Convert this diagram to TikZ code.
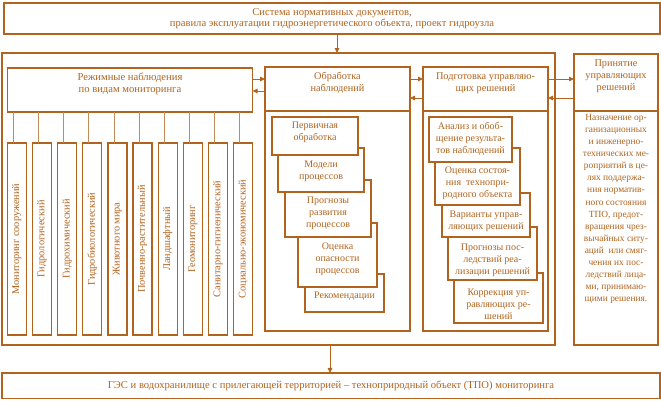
\documentclass[tikz,border=0pt]{standalone}
\usepackage{fontspec}
\setmainfont{Liberation Serif}
\usetikzlibrary{arrows.meta,calc}
\definecolor{br}{RGB}{178,100,30}
\begin{document}
\begin{tikzpicture}[x=1pt,y=-1pt,
  box/.style={draw=br, line width=1.4pt, fill=white, inner sep=0pt, outer sep=0pt, text=br,
    font=\fontsize{10.6}{11.7}\selectfont, align=center},
  cb/.style={line width=1.2pt},
  thk/.style={line width=1.9pt},
  lbl/.style={text=br, font=\fontsize{10}{12}\selectfont, align=center, inner sep=0pt},
  big/.style={font=\fontsize{10.6}{12}\selectfont},
  hdr/.style={font=\fontsize{10.3}{12}\selectfont},
  sml/.style={font=\fontsize{9.4}{12.1}\selectfont},
  vl/.style={draw=br!75, line width=0.8pt},
  arr/.style={draw=br, line width=1pt, -{Triangle[length=5pt,width=4.5pt]}},
  ]
\useasboundingbox (0,0) rectangle (661,400);

% top and main
\node[box, minimum width=656pt, minimum height=31pt] (norm) at (332,18.5)
  {Система нормативных документов,\\правила эксплуатации гидроэнергетического объекта, проект гидроузла};
\node[box, minimum width=553pt, minimum height=292pt] (main) at (278.5,199) {};

% regime observations
\node[box, thk, minimum width=245pt, minimum height=43.4pt,
  label={[lbl,big,yshift=6pt]center:{Режимные наблюдения\\по видам мониторинга}}] (reg) at (130,90) {};

% monitoring kinds
\foreach \i/\t in {0/Мониторинг сооружений,1/Гидрологический,2/Гидрохимический,3/Гидробиологический,
  4/Животного мира,5/Почвенно-растительный,6/Ландшафтный,7/Геомониторинг,
  8/Санитарно-гигиенический,9/Социально-экономический}{
  \node[box, cb, minimum width=19pt, minimum height=192pt,
    label={[lbl,hdr,rotate=90]center:{\t}}] (m\i) at ({16.8+25.15*\i},239) {};
  \draw[vl] ([xshift=-3.5pt]m\i.north) -- ([xshift=-3.5pt]m\i.north |- reg.south);
}

% processing
\node[box, minimum width=145pt, minimum height=44pt,
  label={[lbl,hdr,yshift=6pt]center:{Обработка\\наблюдений}}] (obrh) at (337.5,89) {};
\node[box, minimum width=145pt, minimum height=220pt, anchor=north] (obrb) at (obrh.south) {};

% preparation
\node[box, minimum width=125pt, minimum height=44pt,
  label={[lbl,hdr,yshift=6pt]center:{Подготовка управляю-\\щих решений}}] (podh) at (485.5,89) {};
\node[box, minimum width=125pt, minimum height=220pt, anchor=north] (podb) at (podh.south) {};

% decision making
\node[box, minimum width=84pt, minimum height=57pt,
  label={[lbl,hdr,yshift=6pt]center:{Принятие\\управляющих\\решений}}] (prh) at (616,82.5) {};
\node[box, minimum width=84pt, minimum height=234pt, anchor=north,
  label={[lbl,sml,anchor=north,yshift=-3pt]north:{Назначение ор-\\ганизационных\\и инженерно-\\технических ме-\\роприятий в це-\\лях поддержа-\\ния норматив-\\ного состояния\\ТПО, предот-\\вращения чрез-\\вычайных ситу-\\аций~ или смяг-\\чения их пос-\\ледствий лица-\\ми, принимаю-\\щими решения.}}] (prb) at (prh.south) {};

% bottom
\node[box, minimum width=658pt, minimum height=25.5pt] (bot) at (331,385.7)
  {ГЭС и водохранилище с прилегающей территорией – техноприродный объект (ТПО) мониторинга};

% cascade in processing
\node[box, cb, minimum width=79pt, minimum height=38pt,
  label={[lbl,yshift=-3pt]center:{Рекомендации}}] (p5) at (344.5,293) {};
\node[box, cb, minimum width=79pt, minimum height=64pt,
  label={[lbl,yshift=-4pt]center:{Оценка\\опасности\\процессов}}] (p4) at (337.5,255) {};
\node[box, cb, minimum width=86pt, minimum height=57pt,
  label={[lbl,yshift=-4.5pt]center:{Прогнозы\\развития\\процессов}}] (p3) at (328,208.5) {};
\node[box, cb, minimum width=86pt, minimum height=44pt,
  label={[lbl,yshift=-1.5pt]center:{Модели\\процессов}}] (p2) at (321,170) {};
\node[box, thk, minimum width=86pt, minimum height=38pt,
  label={[lbl,yshift=3.5pt]center:{Первичная\\обработка}}] (p1) at (315,136) {};

% cascade in preparation
\node[box, cb, minimum width=89pt, minimum height=50pt,
  label={[lbl,yshift=-6pt]center:{Коррекция уп-\\равляющих ре-\\шений}}] (q5) at (498.5,298) {};
\node[box, cb, minimum width=89pt, minimum height=53pt,
  label={[lbl,yshift=-7pt]center:{Прогнозы пос-\\ледствий реа-\\лизации решений}}] (q4) at (492.5,253.5) {};
\node[box, cb, minimum width=88pt, minimum height=44pt,
  label={[lbl,yshift=-6.5pt]center:{Варианты управ-\\ляющих решений}}] (q3) at (486,215) {};
\node[box, cb, minimum width=85pt, minimum height=57pt,
  label={[lbl,yshift=-6.5pt]center:{Оценка состоя-\\ния~ технопри-\\родного объекта}}] (q2) at (477.5,176.5) {};
\node[box, thk, minimum width=83pt, minimum height=45pt,
  label={[lbl,yshift=0.5pt]center:{Анализ и обоб-\\щение результа-\\тов наблюдений}}] (q1) at (470.5,139.5) {};

% arrows
\draw[arr] ([xshift=5pt]norm.south) -- ([xshift=5pt]norm.south |- main.north);
\draw[arr] ([xshift=51.5pt]main.south) -- ([xshift=51.5pt]main.south |- bot.north);
\draw[arr] ([yshift=11pt]reg.east) -- ([yshift=11pt]reg.east -| obrh.west);
\draw[arr] ([yshift=-2pt]obrh.west) -- ([yshift=-2pt]obrh.west -| reg.east);
\draw[arr] ([yshift=10pt]obrh.east) -- ([yshift=10pt]obrh.east -| podh.west);
\draw[arr] ([yshift=-9pt]podh.west) -- ([yshift=-9pt]podh.west -| obrh.east);
\draw[arr] ([yshift=10pt]podh.east) -- ([yshift=10pt]podh.east -| prh.west);
\draw[arr] ([yshift=-9pt]podh.east -| prh.west) -- ([yshift=-9pt]podh.east);
\end{tikzpicture}
\end{document}
